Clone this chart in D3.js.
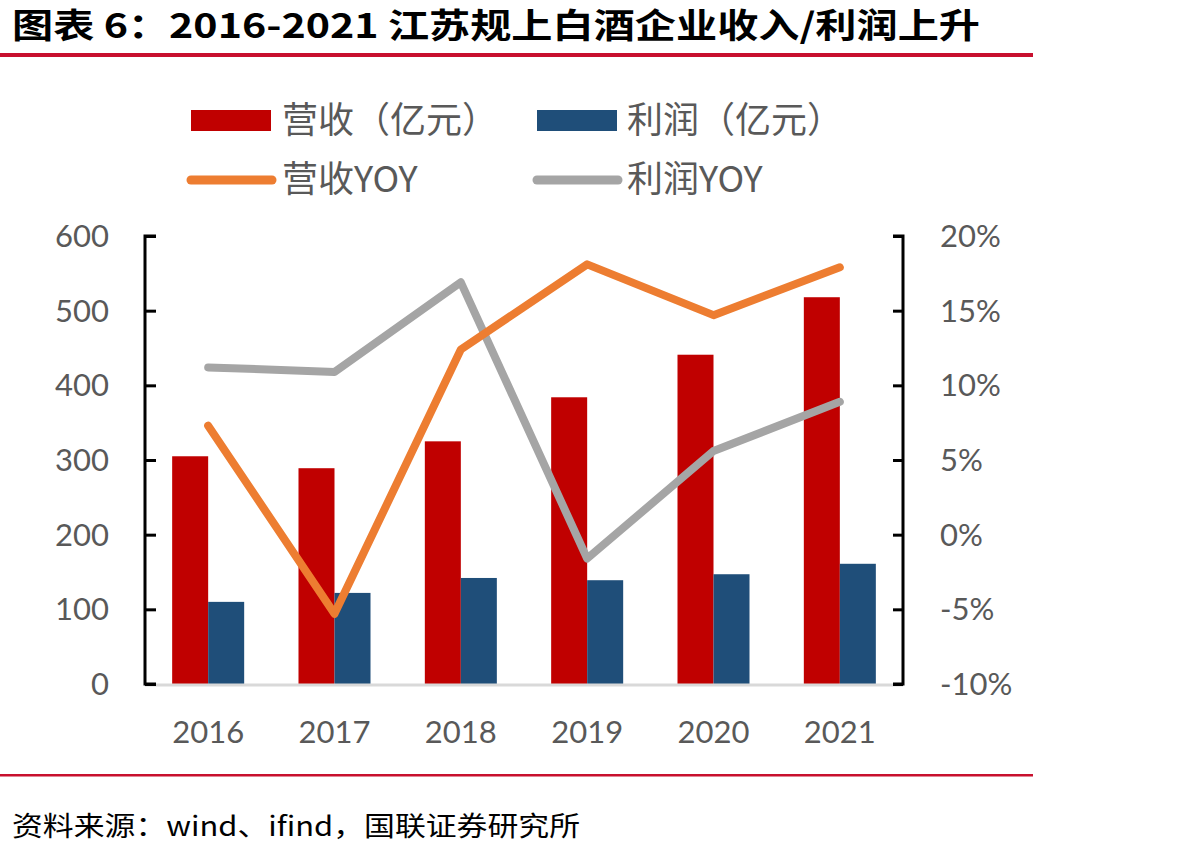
<!DOCTYPE html>
<html><head><meta charset="utf-8">
<script src="https://cdn.jsdelivr.net/npm/d3@7"></script>
<style>body{margin:0;background:#fff}svg{display:block}</style>
</head><body><svg id="c" width="1189" height="856"></svg>
<script>
const years = ["2016","2017","2018","2019","2020","2021"];
const revenue = [305, 289, 325, 384, 441, 518];
const profit = [110, 122, 142, 139, 147, 161];
const revenueYoY = [7.3, -5.3, 12.4, 18.1, 14.7, 17.9];
const profitYoY = [11.2, 10.9, 16.9, -1.6, 5.6, 8.9];
const leftTicks = [0,100,200,300,400,500,600];
const rightTicks = [-10,-5,0,5,10,15,20];
const legendItems = [
  {name:"营收（亿元）", type:"bar", color:"#C00000"},
  {name:"利润（亿元）", type:"bar", color:"#1F4E79"},
  {name:"营收YOY", type:"line", color:"#ED7D31"},
  {name:"利润YOY", type:"line", color:"#A5A5A5"}
];
const title = "图表 6：2016-2021 江苏规上白酒企业收入/利润上升";
const source = "资料来源：wind、ifind，国联证券研究所";

const svg = d3.select("#c");
const cjk = "'Noto Sans CJK SC', sans-serif";
const num = "Lato, 'Open Sans', sans-serif";
const L = 145, R = 903, T = 236, B = 684;

// title
svg.append("text").attr("x",12).attr("y",38).attr("font-family",cjk).attr("font-weight","bold")
  .attr("font-size",34).attr("fill","#000").attr("textLength",968).attr("lengthAdjust","spacingAndGlyphs").text(title);
svg.append("rect").attr("x",0).attr("y",53).attr("width",1033).attr("height",4).attr("fill","#C8102E");
svg.append("rect").attr("x",0).attr("y",774).attr("width",1033).attr("height",2.5).attr("fill","#C8102E");
svg.append("text").attr("x",12).attr("y",836).attr("font-family",cjk).attr("font-size",27).attr("fill","#000")
  .attr("textLength",568).attr("lengthAdjust","spacingAndGlyphs").text(source);

const x = d3.scaleBand().domain(years).range([L,R]).paddingInner(0.43).paddingOuter(0.215);
const yL = d3.scaleLinear().domain([0,600]).range([B,T]);
const yR = d3.scaleLinear().domain([-10,20]).range([B,T]);
const bw = x.bandwidth()/2;

// bars
svg.append("g").selectAll("rect").data(years).join("rect")
  .attr("x",d=>x(d)).attr("y",(d,i)=>yL(revenue[i])).attr("width",bw).attr("height",(d,i)=>B-yL(revenue[i])).attr("fill","#C00000");
svg.append("g").selectAll("rect").data(years).join("rect")
  .attr("x",d=>x(d)+bw).attr("y",(d,i)=>yL(profit[i])).attr("width",bw).attr("height",(d,i)=>B-yL(profit[i])).attr("fill","#1F4E79");

// bottom axis line
svg.append("line").attr("x1",L).attr("x2",R).attr("y1",B+1).attr("y2",B+1).attr("stroke","#D9D9D9").attr("stroke-width",3);

// axes
const gl = svg.append("g").attr("transform",`translate(${L},0)`)
  .call(d3.axisRight(yL).tickValues(leftTicks).tickSize(11).tickFormat(""));
gl.select(".domain").attr("stroke","#000").attr("stroke-width",3).attr("d",`M11,${T}H0V${B}H11`);
gl.selectAll(".tick line").attr("stroke","#000").attr("stroke-width",3);
svg.append("g").selectAll("text").data(leftTicks).join("text")
  .attr("x",109).attr("y",d=>yL(d)+11).attr("text-anchor","end").attr("font-family",num).attr("font-size",31).attr("fill","#595959").text(d=>d);

const gr = svg.append("g").attr("transform",`translate(${R},0)`)
  .call(d3.axisLeft(yR).tickValues(rightTicks).tickSize(10).tickFormat(""));
gr.select(".domain").attr("stroke","#000").attr("stroke-width",3).attr("d",`M-10,${T}H0V${B}H-10`);
gr.selectAll(".tick line").attr("stroke","#000").attr("stroke-width",3);
svg.append("g").selectAll("text").data(rightTicks).join("text")
  .attr("x",940).attr("y",d=>yR(d)+11).attr("text-anchor","start").attr("font-family",num).attr("font-size",31).attr("fill","#595959").text(d=>d+"%");

svg.append("g").selectAll("text").data(years).join("text")
  .attr("x",d=>x(d)+bw).attr("y",743).attr("text-anchor","middle").attr("font-family",num).attr("font-size",31).attr("fill","#595959").text(d=>d);

// lines
const line = d3.line().x((d,i)=>x(years[i])+bw).y(d=>yR(d));
svg.append("path").datum(profitYoY).attr("d",line).attr("fill","none").attr("stroke","#A5A5A5").attr("stroke-width",8).attr("stroke-linecap","round").attr("stroke-linejoin","round");
svg.append("path").datum(revenueYoY).attr("d",line).attr("fill","none").attr("stroke","#ED7D31").attr("stroke-width",8).attr("stroke-linecap","round").attr("stroke-linejoin","round");

// legend
const lpos = [[191,120.5,282],[537,120.5,627],[191,180,282],[537,180,627]];
legendItems.forEach((it,i)=>{
  const [lx,ly,tx] = lpos[i];
  if(it.type==="bar"){
    svg.append("rect").attr("x",lx).attr("y",ly-10.5).attr("width",80).attr("height",21).attr("fill",it.color);
  } else {
    svg.append("line").attr("x1",lx).attr("x2",lx+81).attr("y1",ly).attr("y2",ly).attr("stroke",it.color).attr("stroke-width",9).attr("stroke-linecap","round");
  }
  svg.append("text").attr("x",tx).attr("y",ly+12).attr("font-family",cjk).attr("font-size",36).attr("fill","#595959").text(it.name);
});
</script></body></html>
